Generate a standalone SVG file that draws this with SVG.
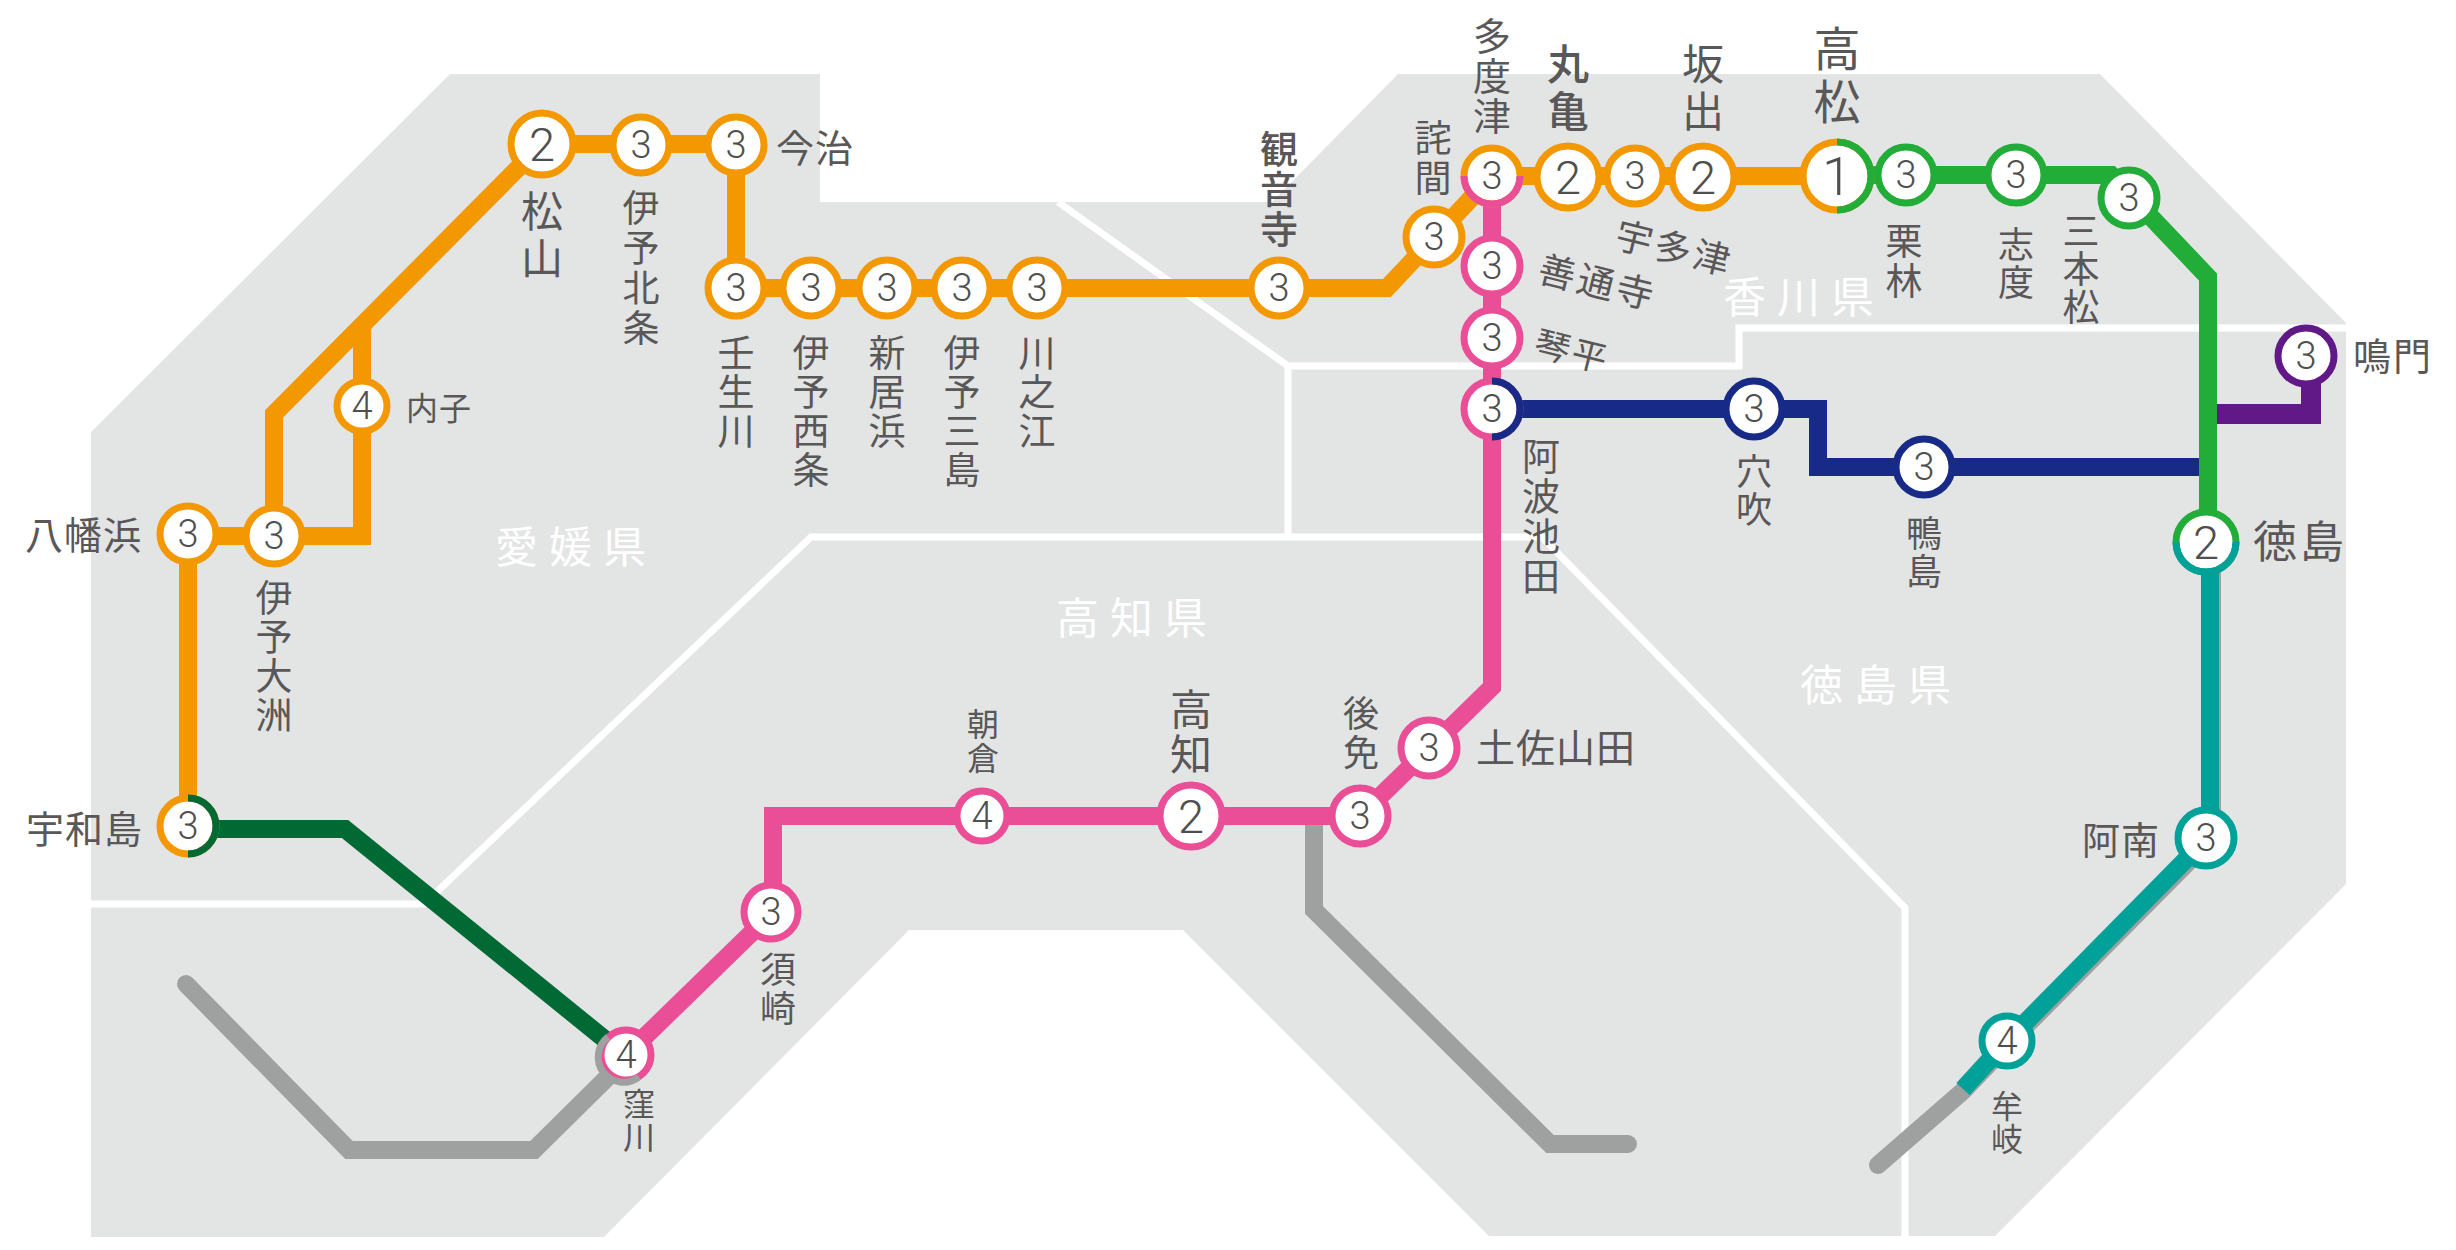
<svg xmlns="http://www.w3.org/2000/svg" width="2456" height="1250" viewBox="0 0 2456 1250">
<style>
text{font-family:"Noto Sans CJK JP","Noto Sans",sans-serif;fill:#595757}
.v{writing-mode:vertical-rl}
.n{font-family:"Roboto","Liberation Sans",sans-serif;font-weight:300;text-anchor:middle;dominant-baseline:central;font-size:38px;fill:#4f4f4f}
.b{font-size:47px}
.p{fill:#fff;font-size:43px;letter-spacing:11px;text-anchor:middle;dominant-baseline:central}
.h{dominant-baseline:central}
.l{fill:none;stroke-width:18;stroke-linejoin:miter}
.w{fill:none;stroke:#fff;stroke-width:7}
.g{stroke:#9fa0a0;stroke-linecap:round}
.o{stroke:#f39800}.k{stroke:#e94e96}.e{stroke:#22ac38}.d{stroke:#006934}.y{stroke:#172a88}.u{stroke:#601986}.t{stroke:#00a199}
circle{fill:#fff;stroke-width:7}
.a{fill:none;stroke-width:7}
</style>
<g id="regions">
<polygon points="450,74 820,74 820,202 1272,202 1398,74 2100,74 2346,323 2346,884 1995,1236 1489,1236 1183,930 909,930 604,1237 91,1237 91,432" fill="#e3e4e4"/>
<path class="w" d="M1058 202L1288 366H1739V328H2346M1288 366V537M91 904H424L811 537H1542L1905 908V1236"/>
<text class="p" x="576" y="544">愛媛県</text>
<text class="p" x="1137" y="615">高知県</text>
<text class="p" x="1804" y="294">香川県</text>
<text class="p" x="1881" y="682">徳島県</text>
</g>
<g id="connectors">
<path class="l g" d="M186 984L349 1150H534L622 1063"/>
<path class="l g" d="M1314 820V910L1550 1144H1628"/>
<path class="l g" d="M2212 560V838L2009 1043L1963 1091L1878 1165"/>
<path class="l o" d="M188 826V536H362V323M274 536V414L542 144H736V288H1387L1492 176H1838"/>
<path class="l u" d="M2208 414H2311V356" style="stroke-width:20"/>
<path class="l y" d="M1492 409H1818V467H2203"/>
<path class="l e" d="M1838 175H2111L2208 277V542"/>
<path class="l k" d="M1492 176V687L1360 816H773V912L626 1055"/>
<path class="l d" d="M188 829H345L618 1050"/>
<path class="l t" d="M2210 560V835L2007 1041L1963 1089"/>
</g>
<g id="n-matsuyama"><circle class="o" cx="542" cy="144" r="31"/><text class="n b" x="542" y="144">2</text><text class="v" x="542" y="190" font-size="42" letter-spacing="5">松山</text></g>
<g id="n-iyohojo"><circle class="o" cx="641" cy="145" r="28"/><text class="n" x="641" y="145">3</text><text class="v" x="641" y="189" font-size="37" letter-spacing="3">伊予北条</text></g>
<g id="n-imabari"><circle class="o" cx="736" cy="145" r="28"/><text class="n" x="736" y="145">3</text><text class="h" x="776" y="145" font-size="38" letter-spacing="1">今治</text></g>
<g id="n-nyugawa"><circle class="o" cx="736" cy="288" r="28"/><text class="n" x="736" y="288">3</text><text class="v" x="736" y="334" font-size="37" letter-spacing="2">壬生川</text></g>
<g id="n-iyosaijo"><circle class="o" cx="811" cy="288" r="28"/><text class="n" x="811" y="288">3</text><text class="v" x="811" y="334" font-size="37" letter-spacing="2">伊予西条</text></g>
<g id="n-niihama"><circle class="o" cx="887" cy="288" r="28"/><text class="n" x="887" y="288">3</text><text class="v" x="887" y="334" font-size="37" letter-spacing="2">新居浜</text></g>
<g id="n-iyomishima"><circle class="o" cx="962" cy="288" r="28"/><text class="n" x="962" y="288">3</text><text class="v" x="962" y="334" font-size="37" letter-spacing="2">伊予三島</text></g>
<g id="n-kawanoe"><circle class="o" cx="1037" cy="288" r="28"/><text class="n" x="1037" y="288">3</text><text class="v" x="1037" y="334" font-size="37" letter-spacing="2">川之江</text></g>
<g id="n-kanonji"><circle class="o" cx="1279" cy="288" r="28"/><text class="n" x="1279" y="288">3</text><text class="v" x="1279" y="130" font-size="38" letter-spacing="2" font-weight="500">観音寺</text></g>
<g id="n-takuma"><circle class="o" cx="1434" cy="237" r="28"/><text class="n" x="1434" y="237">3</text><text class="v" x="1433" y="119" font-size="37" letter-spacing="3">詫間</text></g>
<g id="n-tadotsu"><circle class="o" cx="1492" cy="176" r="28"/><path class="a k" d="M1464 176A28 28 0 0 0 1520 176"/><text class="n" x="1492" y="176">3</text><text class="v" x="1492" y="17" font-size="38" letter-spacing="2">多度津</text></g>
<g id="n-marugame"><circle class="o" cx="1568" cy="177" r="31"/><text class="n b" x="1568" y="177">2</text><text class="v" x="1568" y="43" font-size="42" letter-spacing="5" font-weight="500">丸亀</text></g>
<g id="n-utazu"><circle class="o" cx="1635" cy="176" r="28"/><text class="n" x="1635" y="176">3</text><text text-anchor="middle" dominant-baseline="central" transform="translate(1675 246) rotate(14)" font-size="37" letter-spacing="3">宇多津</text></g>
<g id="n-sakaide"><circle class="o" cx="1703" cy="177" r="31"/><text class="n b" x="1703" y="177">2</text><text class="v" x="1703" y="43" font-size="42" letter-spacing="5">坂出</text></g>
<g id="n-takamatsu"><circle class="o" cx="1837" cy="176" r="34"/><path class="a e" d="M1837 142A34 34 0 0 1 1837 210"/><text class="n" x="1837" y="176" style="font-size:54px">1</text><text class="v" x="1837" y="25" font-size="47" letter-spacing="6">高松</text></g>
<g id="n-ritsurin"><circle class="e" cx="1906" cy="175" r="28"/><text class="n" x="1906" y="175">3</text><text class="v" x="1904" y="222" font-size="37" letter-spacing="3">栗林</text></g>
<g id="n-shido"><circle class="e" cx="2016" cy="175" r="28"/><text class="n" x="2016" y="175">3</text><text class="v" x="2016" y="226" font-size="36" letter-spacing="2">志度</text></g>
<g id="n-sanbonmatsu"><circle class="e" cx="2129" cy="198" r="28"/><text class="n" x="2129" y="198">3</text><text class="v" x="2081" y="212" font-size="37" letter-spacing="1">三本松</text></g>
<g id="n-naruto"><circle class="u" cx="2306" cy="356" r="28"/><text class="n" x="2306" y="356">3</text><text class="h" x="2353" y="353" font-size="38" letter-spacing="2">鳴門</text></g>
<g id="n-tokushima"><circle class="e" cx="2206" cy="542" r="30"/><path class="a t" d="M2176 542A30 30 0 0 0 2236 542"/><text class="n b" x="2206" y="542">2</text><text class="h" x="2253" y="539" font-size="44" letter-spacing="3">徳島</text></g>
<g id="n-anabuki"><circle class="y" cx="1754" cy="409" r="28"/><text class="n" x="1754" y="409">3</text><text class="v" x="1754" y="453" font-size="36" letter-spacing="2">穴吹</text></g>
<g id="n-kamojima"><circle class="y" cx="1924" cy="467" r="28"/><text class="n" x="1924" y="467">3</text><text class="v" x="1924" y="515" font-size="36" letter-spacing="2">鴨島</text></g>
<g id="n-zentsuji"><circle class="k" cx="1492" cy="266" r="28"/><text class="n" x="1492" y="266">3</text><text text-anchor="middle" dominant-baseline="central" transform="translate(1598 280) rotate(14)" font-size="37" letter-spacing="3">善通寺</text></g>
<g id="n-kotohira"><circle class="k" cx="1492" cy="338" r="28"/><text class="n" x="1492" y="338">3</text><text text-anchor="middle" dominant-baseline="central" transform="translate(1573 349) rotate(14)" font-size="35" letter-spacing="3">琴平</text></g>
<g id="n-awaikeda"><circle class="k" cx="1492" cy="409" r="28"/><path class="a y" d="M1492 381A28 28 0 0 1 1492 437"/><text class="n" x="1492" y="409">3</text><text class="v" x="1541" y="437" font-size="38" letter-spacing="2">阿波池田</text></g>
<g id="n-tosayamada"><circle class="k" cx="1429" cy="748" r="28"/><text class="n" x="1429" y="748">3</text><text class="h" x="1476" y="745" font-size="39" letter-spacing="1">土佐山田</text></g>
<g id="n-gomen"><circle class="k" cx="1360" cy="816" r="28"/><text class="n" x="1360" y="816">3</text><text class="v" x="1361" y="695" font-size="36" letter-spacing="3">後免</text></g>
<g id="n-kochi"><circle class="k" cx="1191" cy="816" r="31"/><text class="n b" x="1191" y="816">2</text><text class="v" x="1191" y="688" font-size="42" letter-spacing="3">高知</text></g>
<g id="n-asakura"><circle class="k" cx="982" cy="816" r="25"/><text class="n" x="982" y="816">4</text><text class="v" x="983" y="708" font-size="32" letter-spacing="2">朝倉</text></g>
<g id="n-susaki"><circle class="k" cx="771" cy="912" r="27"/><text class="n" x="771" y="912">3</text><text class="v" x="778" y="951" font-size="36" letter-spacing="3">須崎</text></g>
<g id="n-kubokawa"><circle class="k" cx="626" cy="1055" r="25"/><path class="a" stroke="#9fa0a0" d="M608 1037A25 25 0 0 0 639 1077"/><text class="n" x="626" y="1055">4</text><text class="v" x="639" y="1088" font-size="32" letter-spacing="1">窪川</text></g>
<g id="n-yawatahama"><circle class="o" cx="188" cy="534" r="28"/><text class="n" x="188" y="534">3</text><text class="h" x="25" y="532" font-size="38" letter-spacing="1">八幡浜</text></g>
<g id="n-iyoozu"><circle class="o" cx="274" cy="536" r="28"/><text class="n" x="274" y="536">3</text><text class="v" x="274" y="579" font-size="37" letter-spacing="2">伊予大洲</text></g>
<g id="n-uchiko"><circle class="o" cx="362" cy="406" r="25"/><text class="n" x="362" y="406">4</text><text class="h" x="406" y="406" font-size="32" letter-spacing="1">内子</text></g>
<g id="n-uwajima"><circle class="o" cx="188" cy="826" r="28"/><path class="a d" d="M188 798A28 28 0 0 1 188 854"/><text class="n" x="188" y="826">3</text><text class="h" x="26" y="826" font-size="38" letter-spacing="1">宇和島</text></g>
<g id="n-anan"><circle class="t" cx="2206" cy="838" r="28"/><text class="n" x="2206" y="838">3</text><text class="h" x="2082" y="837" font-size="38" letter-spacing="1">阿南</text></g>
<g id="n-mugi"><circle class="t" cx="2007" cy="1041" r="25"/><text class="n" x="2007" y="1041">4</text><text class="v" x="2007" y="1090" font-size="32" letter-spacing="1">牟岐</text></g>
</svg>
